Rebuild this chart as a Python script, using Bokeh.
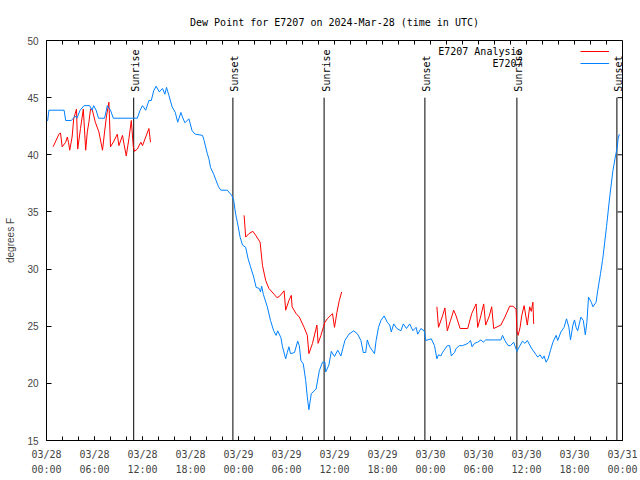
import numpy as np
import pandas as pd
from bokeh.plotting import figure
from bokeh.models import (FixedTicker, DatetimeTickFormatter, Legend, LegendItem, Label, Range1d)
from bokeh.core.properties import value
from bokeh.embed import file_html
from bokeh.resources import INLINE

TITLE = "Dew Point for E7207 on 2024-Mar-28 (time in UTC)"
START = "2024-03-28 00:00"
SPAN_HOURS = 72

# Station observations (hours after start, degrees F)
blue_h = [0.0, 0.15, 0.3, 2.2, 2.4, 3.1, 3.35, 3.6, 3.8, 4.2, 4.7, 5.4, 5.7, 5.9, 6.2, 6.5, 7.26, 7.6,
          8.0, 8.35, 11.35, 11.7, 12.0, 12.4, 12.8, 13.1, 13.4, 13.7, 14.1, 14.5, 14.8, 15.0, 15.3,
          15.7, 16.1, 16.4, 16.8, 17.0, 17.3, 17.8, 18.2, 18.6, 19.5, 19.7, 20.1, 20.3, 20.5, 20.9,
          21.2, 21.5, 21.8, 22.6, 23.2, 23.4, 23.65, 23.9, 24.2, 24.5, 24.9, 25.2, 25.5, 25.9, 26.2,
          26.6, 26.75, 26.9, 27.1, 27.6, 28.0, 28.4, 28.7, 28.9, 29.3, 29.5, 29.9, 30.1, 30.3, 30.5,
          31.0, 31.4, 31.6, 31.8, 32.1, 32.4, 32.6, 32.8, 33.1, 33.7, 34.1, 34.5, 34.8, 34.9, 35.3,
          35.6, 36.0, 36.4, 36.8, 37.3, 37.8, 38.4, 38.9, 39.3, 39.6, 39.9, 40.1, 40.4, 41.0, 41.2,
          41.5, 41.8, 42.2, 42.6, 42.9, 43.1, 43.4, 43.8, 44.3, 44.6, 45.0, 45.4, 45.8, 46.2, 46.4,
          46.8, 47.2, 47.3, 47.4, 48.1, 48.5, 48.8, 49.0, 49.3, 49.5, 49.7, 50.1, 50.4, 50.6, 51.0,
          51.2, 51.6, 52.0, 52.7, 53.0, 53.2, 53.5, 53.9, 54.3, 54.6, 54.9, 56.0, 56.8, 57.0, 57.3,
          57.7, 58.0, 58.4, 58.8, 59.1, 59.5, 59.8, 60.1, 60.6, 61.2, 61.4, 61.7, 62.0, 62.2, 62.45,
          62.7, 63.0, 63.3, 63.7, 63.9, 64.3, 64.7, 65.0, 65.3, 65.5, 65.8, 66.0, 66.2, 66.4, 66.8,
          67.1, 67.35, 67.55, 67.75, 68.1, 68.3, 68.7, 68.9, 69.25, 69.5, 69.6, 70.0, 70.4, 70.8,
          71.1, 71.35, 71.45, 71.6]
blue_v = [43.0, 43.0, 43.9, 43.9, 43.0, 43.0, 43.2, 43.4, 43.2, 43.9, 44.3, 44.3, 43.9, 44.3, 43.9,
          43.2, 43.2, 44.3, 43.9, 43.2, 43.2, 43.9, 44.3, 43.9, 44.75, 44.75, 45.6, 46.0, 45.5, 45.8,
          45.3, 45.9, 45.2, 44.2, 43.7, 42.85, 43.7, 43.3, 42.8, 43.15, 42.1, 41.8, 41.7, 41.25,
          40.1, 39.65, 38.9, 38.3, 37.75, 37.2, 36.9, 36.9, 36.4, 36.0, 34.8, 33.95, 32.8, 32.1,
          31.9, 30.9, 30.2, 29.3, 28.4, 28.3, 28.0, 28.5, 27.8, 26.7, 25.5, 24.6, 24.2, 24.6, 24.0,
          23.2, 22.15, 22.7, 23.2, 22.6, 22.7, 23.7, 23.3, 22.0, 21.7, 20.25, 18.8, 17.7, 19.1, 19.5,
          21.1, 21.85, 21.85, 21.0, 21.6, 22.8, 22.35, 22.9, 22.4, 23.75, 24.3, 24.6, 24.3, 23.75,
          22.7, 22.7, 23.8, 23.2, 22.6, 23.75, 24.9, 25.5, 25.9, 25.35, 25.1, 24.5, 25.2, 24.8, 24.6,
          25.2, 24.8, 25.2, 24.6, 24.9, 24.3, 24.8, 24.6, 24.3, 23.75, 23.9, 23.3, 22.15, 22.5, 22.4,
          22.7, 22.9, 23.3, 23.3, 22.4, 22.7, 23.05, 23.3, 23.3, 23.5, 23.75, 23.2, 23.5, 23.6, 23.8,
          23.6, 23.8, 23.8, 23.8, 24.2, 23.75, 23.3, 23.3, 23.6, 22.8, 23.2, 23.7, 23.5, 23.75, 23.1,
          22.5, 22.3, 22.5, 22.15, 22.4, 21.85, 22.15, 22.9, 23.6, 24.2, 23.75, 24.5, 24.9, 25.65,
          24.9, 23.8, 25.1, 25.55, 24.9, 24.6, 25.8, 25.5, 24.25, 25.35, 27.55, 27.1, 26.7, 27.1,
          28.1, 29.6, 30.75, 31.3, 33.7, 36.3, 38.6, 39.8, 40.7, 41.4, 41.8]

# Analysis, three separate runs
red1_h = [0.83, 1.55, 1.75, 1.96, 2.4, 2.6, 2.75, 2.9, 3.2, 3.4, 3.75, 3.9, 4.25, 4.6, 4.9, 5.1, 5.3,
          5.5, 5.7, 6.1, 6.55, 7.0, 7.26, 7.5, 7.8, 8.0, 8.35, 8.85, 9.05, 9.5, 9.7, 9.97, 10.3,
          10.6, 10.85, 11.0, 11.35, 11.8, 12.0, 12.4, 12.8, 13.0]
red1_v = [40.7, 41.8, 41.9, 40.7, 41.1, 41.55, 41.1, 40.4, 41.55, 43.15, 44.0, 40.5, 42.3, 44.0, 40.4,
          42.0, 42.85, 44.0, 44.0, 42.85, 42.0, 40.4, 42.0, 43.4, 44.6, 40.7, 41.1, 41.8, 40.8, 41.7,
          40.9, 39.9, 41.4, 43.0, 40.7, 40.3, 40.5, 41.1, 40.8, 41.55, 42.3, 41.1]
red2_h = [24.7, 24.9, 25.3, 25.8, 26.2, 26.7, 27.0, 27.4, 27.8, 28.45, 28.8, 29.1, 29.7, 29.9, 30.3,
          30.6, 30.7, 31.2, 31.6, 32.2, 32.6, 32.8, 33.25, 33.8, 33.95, 34.3, 34.8, 35.1, 35.75,
          36.0, 36.3, 36.6, 36.9]
red2_v = [34.7, 32.8, 33.1, 33.3, 32.9, 32.35, 30.3, 29.0, 28.3, 27.8, 27.5, 27.6, 28.1, 26.4, 27.25,
          27.7, 26.7, 26.1, 25.8, 24.9, 24.2, 22.6, 23.5, 25.1, 23.5, 24.2, 25.35, 25.65, 26.1, 24.9,
          26.2, 27.25, 28.0]
red3_h = [48.8, 49.0, 49.5, 49.8, 50.1, 50.5, 50.9, 51.2, 51.7, 52.65, 53.15, 53.7, 53.9, 54.2, 54.65,
          54.9, 55.35, 55.65, 55.9, 56.8, 57.3, 57.9, 58.3, 58.7, 58.8, 58.95, 59.2, 59.4, 59.7,
          60.1, 60.4, 60.6, 60.8, 60.9]
red3_v = [26.7, 24.9, 25.9, 26.6, 24.6, 25.5, 26.4, 25.9, 24.8, 24.8, 26.1, 26.95, 24.9, 25.65, 26.95,
          25.1, 25.9, 26.7, 24.8, 25.1, 25.8, 26.75, 26.75, 26.5, 24.6, 24.2, 24.9, 25.9, 26.8, 25.1,
          26.7, 26.3, 27.1, 25.2]

sun_h = [10.9, 23.3, 34.7, 47.3, 58.8, 71.3]
sun_names = ["Sunrise", "Sunset", "Sunrise", "Sunset", "Sunrise", "Sunset"]
SUN_LINE_TOP = 45

y_ticks = [15, 20, 25, 30, 35, 40, 45, 50]
Y_MIN, Y_MAX = 15, 50
MAJOR_STEP_H = 6
MINOR_STEP_H = 2

# ---------------------------------------------------------------
HOUR_MS = 3600 * 1000.0
base_ms = pd.Timestamp(START).value / 1e6
end_ms = base_ms + SPAN_HOURS * HOUR_MS


def to_ms(hours):
    return [base_ms + h * HOUR_MS for h in hours]


red_x = to_ms(red1_h) + [np.nan] + to_ms(red2_h) + [np.nan] + to_ms(red3_h)
red_y = red1_v + [np.nan] + red2_v + [np.nan] + red3_v

major_ticks = to_ms(range(0, SPAN_HOURS + 1, MAJOR_STEP_H))
minor_ticks = to_ms(range(0, SPAN_HOURS + 1, MINOR_STEP_H))
x_ticker = FixedTicker(ticks=major_ticks, minor_ticks=minor_ticks)
y_ticker = FixedTicker(ticks=y_ticks, minor_ticks=[])

MONO = "DejaVu Sans Mono"
SANS = "Liberation Sans"
RED = "#ff0000"
BLUE = "#0080ff"

p = figure(width=640, height=480, x_axis_type="datetime",
           x_range=Range1d(base_ms, end_ms),
           y_range=Range1d(Y_MIN, Y_MAX),
           output_backend="svg", toolbar_location=None,
           min_border_left=46, min_border_right=18, min_border_top=40, min_border_bottom=40)
p.grid.visible = False
p.outline_line_color = "black"
p.outline_line_alpha = 1.0
p.outline_line_width = 1
p.background_fill_color = "white"
p.border_fill_color = "white"

p.title.text = TITLE
p.title.align = "center"
p.title.vertical_align = "top"
p.title.text_font = MONO
p.title.text_font_size = "10px"
p.title.text_font_style = "normal"
p.title.text_color = "black"
p.title.standoff = 21

fmt = "%m/%d\n%H:%M"
xa = p.xaxis[0]
xa.ticker = x_ticker
xa.formatter = DatetimeTickFormatter(hours=fmt, hourmin=fmt, days=fmt, minutes=fmt, minsec=fmt,
                                     seconds=fmt, months=fmt, years=fmt)
xa.major_label_text_font = MONO
xa.major_label_text_font_size = "10px"
xa.major_label_text_line_height = 1.4
xa.major_label_standoff = 8
xa.major_tick_in = 4
xa.major_tick_out = 0
xa.minor_tick_in = 4
xa.minor_tick_out = 0
xa.axis_line_color = "black"
xa.major_tick_line_color = "black"
xa.minor_tick_line_color = "black"

ya = p.yaxis[0]
ya.ticker = y_ticker
ya.major_label_text_font = SANS
ya.major_label_text_font_size = "10px"
ya.major_label_standoff = 8
ya.major_tick_in = 5
ya.major_tick_out = 0
ya.minor_tick_line_color = None
ya.axis_label = "degrees F"
ya.axis_label_text_font = SANS
ya.axis_label_text_font_size = "10px"
ya.axis_label_text_font_style = "normal"
ya.axis_label_standoff = 8

# mirrored ticks on top and right edges of the frame
p.ray(x=minor_ticks, y=[Y_MAX] * len(minor_ticks), length=4, length_units="screen",
      angle=-np.pi / 2, line_color="black", line_width=1)
p.ray(x=[end_ms] * len(y_ticks), y=y_ticks, length=5, length_units="screen",
      angle=np.pi, line_color="black", line_width=1)

# sunrise / sunset markers
sun_x = to_ms(sun_h)
p.segment(x0=sun_x, y0=[Y_MIN] * len(sun_x), x1=sun_x, y1=[SUN_LINE_TOP] * len(sun_x),
          line_color="black", line_width=1)
p.text(x=sun_x, y=[SUN_LINE_TOP] * len(sun_x), text=sun_names, angle=np.pi / 2,
       text_align="left", text_baseline="middle", x_offset=2, y_offset=-6,
       text_font=value(MONO), text_font_size="10px", text_color="black")

r_red = p.line(red_x, red_y, line_color=RED, line_width=1)
r_blue = p.line(to_ms(blue_h), blue_v, line_color=BLUE, line_width=1)

legend = Legend(items=[LegendItem(label=value(" "), renderers=[r_red], index=0),
                       LegendItem(label=value("  "), renderers=[r_blue], index=0)],
                location=(534, 371.5), padding=0, margin=0, spacing=0,
                glyph_width=29, glyph_height=12, label_height=12, label_width=1,
                label_standoff=0, border_line_color=None, background_fill_alpha=0)
p.add_layout(legend, "center")
for txt, yy in (("E7207 Analysis", 389), ("E7207", 377)):
    p.add_layout(Label(x=476, y=yy, x_units="screen", y_units="screen", text=txt,
                       text_align="right", text_baseline="middle", text_font=MONO,
                       text_font_size="10px", text_color="black"))

open("out.html", "w").write(file_html(p, INLINE))
